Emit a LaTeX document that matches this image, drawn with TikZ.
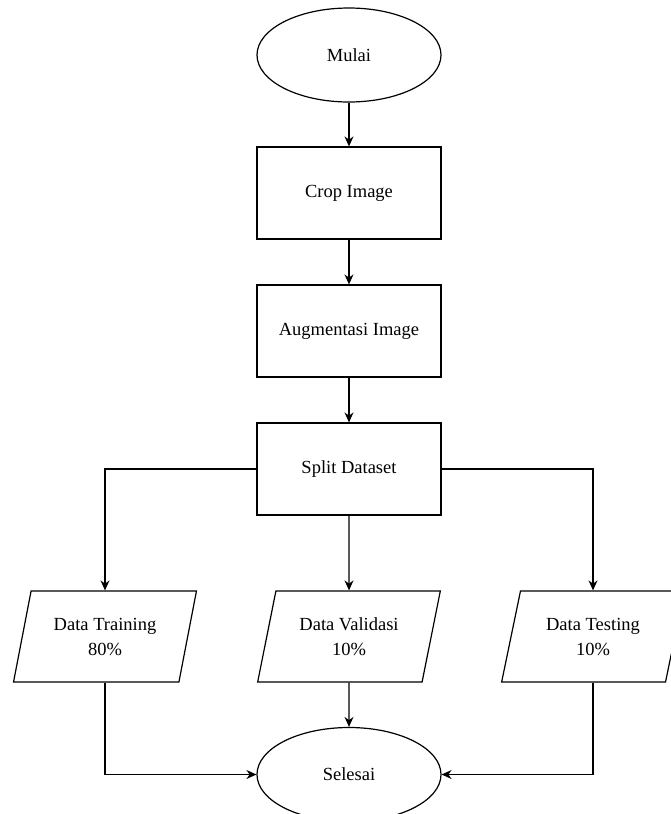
\documentclass[tikz,border=0pt]{standalone}
\usepackage{fontspec}
\setmainfont{Liberation Serif}
\usetikzlibrary{arrows, positioning, shapes, arrows.meta}

\begin{document}
\begin{tikzpicture}[
    > = {Stealth[length=10pt,width=9pt]}, % arrow head style
    x = 1pt, y = -1pt,
    on grid,
    node distance = 138pt, % distance between node centres
    line width = 1.2pt
    ]

    \tikzset{
    terminal/.style = {ellipse, draw = black, fill = white,
        minimum width = 184pt, minimum height = 94pt, inner sep = 0pt},
    process/.style = {rectangle, draw = black, fill = white,
        minimum width = 184pt, minimum height = 92pt},
    datain/.style = {trapezium, trapezium left angle = 72, trapezium right angle = 108,
        trapezium stretches = true, draw = black, fill = white, align = center,
        minimum width = 183pt, minimum height = 91pt, inner sep = 0pt},
    every node/.style = {font = \fontsize{18.5}{25}\selectfont}
    }

    \useasboundingbox (0,0) rectangle (671,814);

    \node[terminal] (mulai) at (349,55) {Mulai};
    \node[process] (crop) [below=of mulai] {Crop Image};
    \node[process] (augmentasi) [below=of crop] {Augmentasi Image};
    \node[process] (split) [below=of augmentasi] {Split Dataset};
    \node[datain] (validasi) [below=167.5pt of split] {Data Validasi\\10\%};
    \node[datain] (training) [left=244pt of validasi] {Data Training\\80\%};
    \node[datain] (testing) [right=244pt of validasi] {Data Testing\\10\%};
    \node[terminal] (selesai) [below=of validasi] {Selesai};

    \path[->] (mulai) edge (crop);
    \path[->] (crop) edge (augmentasi);
    \path[->] (augmentasi) edge (split);
    \path[->] (split) edge (validasi);
    \draw[->] (split.west) -| (training);
    \draw[->] (split.east) -| (testing);
    \path[->] (validasi) edge (selesai);
    \draw[->] (training) |- (selesai);
    \draw[->] (testing) |- (selesai);

\end{tikzpicture}
\end{document}
